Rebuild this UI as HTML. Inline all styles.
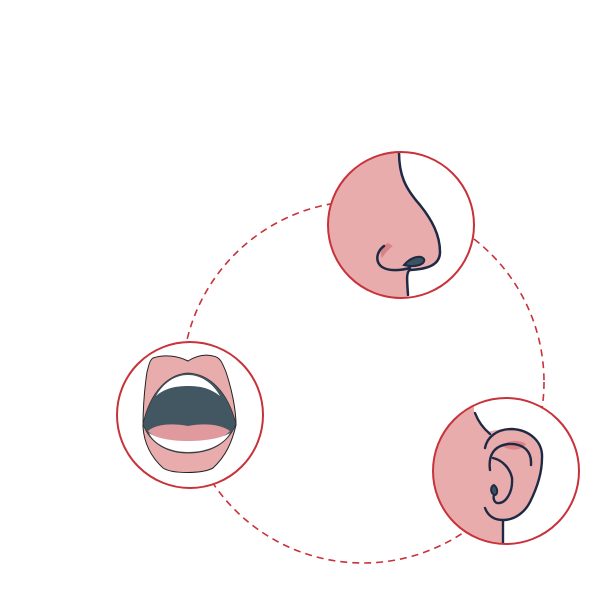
<!DOCTYPE html>
<html><head><style>html,body{margin:0;padding:0;background:#fff;}svg{display:block}</style></head>
<body>
<svg width="600" height="612" viewBox="0 0 600 612" xmlns="http://www.w3.org/2000/svg">
<defs>
<clipPath id="cn"><circle cx="401" cy="225" r="73"/></clipPath>
<clipPath id="ce"><circle cx="506" cy="471" r="73"/></clipPath>
</defs>
<circle cx="363" cy="382" r="181" fill="none" stroke="#c8323a" stroke-width="1.6" stroke-dasharray="7,5"/>

<!-- nose -->
<circle cx="401" cy="225" r="73" fill="#fff"/>
<g clip-path="url(#cn)">
<path d="M399,140 L399,157 C399,175 405,188 420,205 C432,220 440,235 440,252 C440,265 428,269 410,270 L407,275 L408,310 L300,310 L300,140 Z" fill="#e9acad"/>
<path d="M399,152 C399,175 405,188 420,205 C432,220 440,235 440,252 C440,265 428,269 410,270 C406,272 407,280 408,295" fill="none" stroke="#1e2a44" stroke-width="2.5" stroke-linecap="round"/>
<path d="M388,243 C382,246 379,252 382,258 C386,252 390,248 393,246 Z" fill="#d98287"/>
<path d="M384,246 C376,252 375,262 382,267 C390,272 402,270 410,268" fill="none" stroke="#1e2a44" stroke-width="2.5" stroke-linecap="round"/>
<path d="M404,265 C410,258 420,254 424,259 C426,264 416,268 404,265 Z" fill="#3b5261" stroke="#1e2a44" stroke-width="2"/>
</g>
<circle cx="401" cy="225" r="73" fill="none" stroke="#c8323a" stroke-width="2"/>

<!-- mouth -->
<circle cx="190" cy="415" r="73" fill="#fff" stroke="#c8323a" stroke-width="2"/>
<path d="M153,358 C165,354 178,356 188,361 C196,356 205,354 213,356 C220,357 222,362 226,372 C232,390 236,410 236,425 C232,442 226,456 213,468 C202,474 172,474 163,468 C150,456 144,442 143,427 C143,405 145,385 147,372 C149,364 150,360 153,358 Z" fill="#e9acad" stroke="#222" stroke-width="1"/>
<path d="M143,424 C150,392 168,374 188,373 C210,374 228,392 236,424 C228,444 210,453 188,453 C168,453 150,444 143,424 Z" fill="#435763" stroke="#333" stroke-width="0.8"/>
<path d="M156,396 C164,382 176,375 188,375 C200,375 212,382 220,396 C210,388 200,386 188,386 C176,386 165,388 156,396 Z" fill="#fff"/>
<path d="M148,431 C156,424 172,423 188,426 C204,423 220,424 230,431 C222,440 205,443 188,442 C172,443 156,440 148,431 Z" fill="#e09a9d"/>
<path d="M149,433 C156,438 170,441 188,441 C206,441 222,438 230,433 C224,444 208,452 188,452 C170,452 154,444 149,433 Z" fill="#fff"/>

<!-- ear -->
<circle cx="506" cy="471" r="73" fill="#fff"/>
<g clip-path="url(#ce)">
<path d="M474,390 L474,413 C478,422 482,427 488,432 C495,430 505,428 520,429 C533,435 542,447 542,458 C542,472 538,485 535,490 C530,505 522,513 512,518 L503,522 L503,560 L420,560 L420,390 Z" fill="#e9acad"/>
<path d="M475,413 C478,421 483,428 490,434" fill="none" stroke="#1e2a44" stroke-width="2.4" stroke-linecap="round"/>
<path d="M485,448 C487,437 497,429 512,429 C530,430 543,442 542,458 C542,475 536,490 530,502 C525,512 515,520 503,520 C494,520 488,516 485,508" fill="none" stroke="#1e2a44" stroke-width="2.4" stroke-linecap="round"/>
<path d="M503,520 L503,545" fill="none" stroke="#1e2a44" stroke-width="2.4"/>
<path d="M502,446 C508,440 518,439 526,444 C522,450 512,452 502,446 Z" fill="#d98287"/>
<path d="M490,470 C488,455 494,446 508,444 C522,443 532,450 531,465" fill="none" stroke="#1e2a44" stroke-width="2.4" stroke-linecap="round"/>
<path d="M493,458 C502,460 510,468 512,478 C513,492 506,504 497,503 C494,502 493,498 494,495" fill="none" stroke="#1e2a44" stroke-width="2.4" stroke-linecap="round"/>
<path d="M494,485 C490,486 490,494 495,495 C498,494 498,488 494,485 Z" fill="#3b5261" stroke="#1e2a44" stroke-width="2"/>
</g>
<circle cx="506" cy="471" r="73" fill="none" stroke="#c8323a" stroke-width="2"/>
</svg>
</body></html>
